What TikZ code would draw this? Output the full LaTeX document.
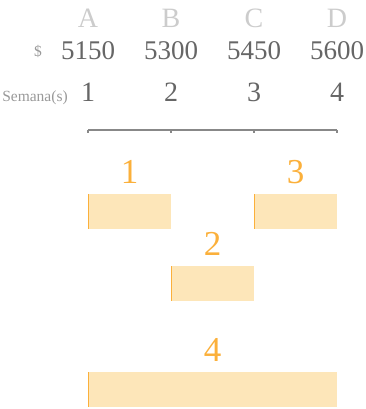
\documentclass[tikz,border=0pt]{standalone}
\usepackage{fontspec}
\setmainfont{Liberation Serif}
\usetikzlibrary{positioning}
\definecolor{lettergray}{HTML}{CCCCCC}
\definecolor{pricegray}{HTML}{666666}
\definecolor{notegray}{HTML}{999999}
\definecolor{axisgray}{HTML}{888888}
\definecolor{weekorange}{HTML}{FBB03B}
\definecolor{weekfill}{HTML}{FDE6B9}
\tikzset{
  colletter/.style={text=lettergray,inner sep=0pt,font=\fontsize{28}{28}\selectfont},
  pricenum/.style={text=pricegray,inner sep=0pt,font=\fontsize{27}{27}\selectfont},
  weeknum/.style={text=pricegray,inner sep=0pt,anchor=base,font=\fontsize{28}{28}\selectfont},
  rowtag/.style={text=notegray,inner sep=0pt,font=\fontsize{15.5}{15.5}\selectfont},
  weekbar/.style={fill=weekfill,inner sep=0pt,minimum height=35pt,anchor=north west},
  barlabel/.style={text=weekorange,inner sep=0pt,font=\fontsize{35}{35}\selectfont},
  axisline/.style={draw=axisgray,line width=1.2pt},
  baredge/.style={draw=weekorange,line width=0.8pt}
}
\begin{document}
\begin{tikzpicture}[x=1pt,y=-1pt]
  \useasboundingbox (0,0) rectangle (365,409);
  \foreach \x/\l/\p/\w [count=\i] in {88/A/5150/1,171/B/5300/2,254/C/5450/3,337/D/5600/4}{
    \node[colletter] (col\i) at (\x,18) {\l};
    \node[pricenum] (price\i) at (\x,51) {\p};
    \node[weeknum] (week\i) at (\x,102) {\w};
    \coordinate (tick\i) at (\x,130);
  }
  \node[rowtag] (dollar) at (38,51) {\$};
  \node[rowtag,anchor=base] (semana) at (35,102) {Semana(s)};
  % eje de semanas
  \draw[axisline] (tick1)--(tick4);
  \foreach \i in {1,...,4} \draw[axisline] (tick\i)--++(0,3);
  % barras
  \node[weekbar,minimum width=83pt] (bar1) at (88,194) {};
  \node[weekbar,minimum width=83pt] (bar3) at (254,194) {};
  \node[weekbar,minimum width=83pt] (bar2) at (171,266) {};
  \node[weekbar,minimum width=249pt] (bar4) at (88,372) {};
  \foreach \i in {1,...,4}{
    \draw[baredge] (bar\i.north west)--(bar\i.south west);
    \node[barlabel,above=10pt of bar\i] (label\i) {\i};
  }
\end{tikzpicture}
\end{document}
